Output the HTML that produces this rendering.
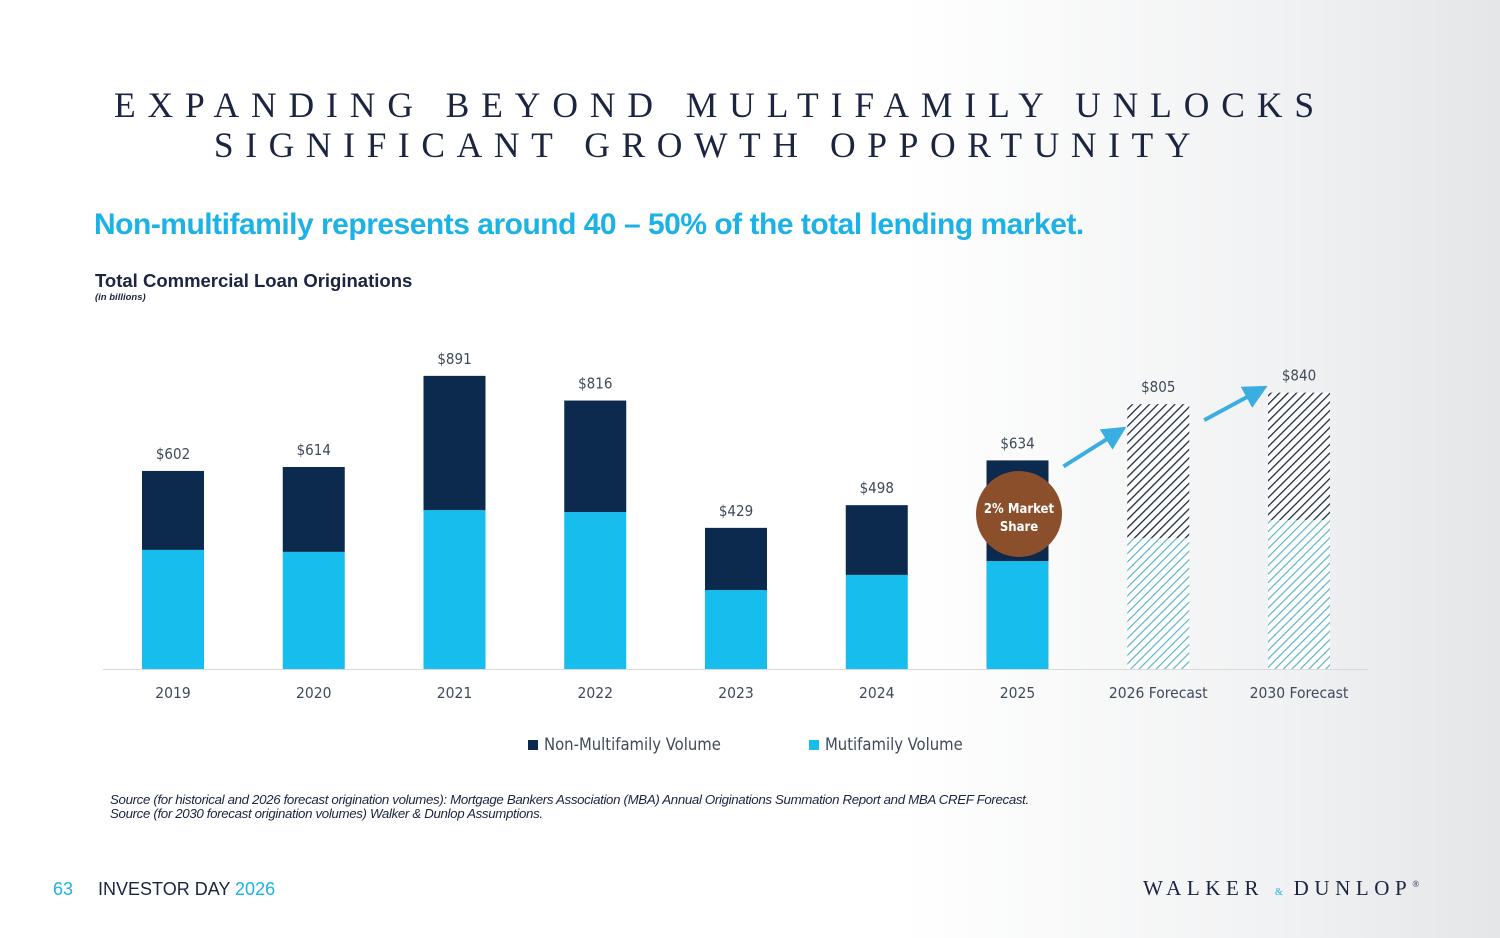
<!DOCTYPE html>
<html><head><meta charset="utf-8"><style>
html,body{margin:0;padding:0;width:1500px;height:938px;overflow:hidden;background:#fff;font-family:"Liberation Sans",sans-serif;}
#bg{position:absolute;left:0;top:0;width:1500px;height:938px;background:linear-gradient(90deg,#fff 0%,#fff 60%,#f1f2f3 85%,#e4e6e8 100%);}
.t{position:absolute;white-space:nowrap;}
</style></head><body>
<div id="bg"></div>
<div class="t" style="left:0;width:1440px;text-align:center;top:84px;font-family:'Liberation Serif',serif;font-size:35.5px;letter-spacing:11.9px;color:#1b2440;">EXPANDING BEYOND MULTIFAMILY UNLOCKS</div>
<div class="t" style="left:0;width:1416px;text-align:center;top:124px;font-family:'Liberation Serif',serif;font-size:35.5px;letter-spacing:11.6px;color:#1b2440;">SIGNIFICANT GROWTH OPPORTUNITY</div>
<div class="t" style="left:94px;top:208px;font-size:30px;font-weight:bold;color:#1cb2e6;letter-spacing:-0.5px;">Non-multifamily represents around 40 – 50% of the total lending market.</div>
<div class="t" style="left:95px;top:270px;font-size:18.5px;font-weight:bold;color:#1b2440;">Total Commercial Loan Originations</div>
<div class="t" style="left:95px;top:292px;font-size:9.5px;font-style:italic;font-weight:bold;color:#1b2440;">(in billions)</div>
<svg id="chart" width="1500" height="938" style="position:absolute;left:0;top:0">
<defs>
<pattern id="hd" width="6" height="6" patternUnits="userSpaceOnUse" patternTransform="rotate(45)"><rect width="6" height="6" fill="#fff"/><line x1="0" y1="0" x2="0" y2="6" stroke="#1f2a3a" stroke-width="2.6"/></pattern>
<pattern id="hl" width="6" height="6" patternUnits="userSpaceOnUse" patternTransform="rotate(45)"><rect width="6" height="6" fill="#fff"/><line x1="0" y1="0" x2="0" y2="6" stroke="#5fb3c8" stroke-width="2.4"/></pattern>
<marker id="ah" markerWidth="6" markerHeight="6" refX="3" refY="3" orient="auto"><path d="M0,0 L6,3 L0,6 z" fill="#3aaee0"/></marker>
</defs>
</svg>
<div class="t" style="left:110px;top:793px;font-size:13.3px;font-style:italic;color:#1b2440;line-height:14px;letter-spacing:-0.35px;">Source (for historical and 2026 forecast origination volumes): Mortgage Bankers Association (MBA) Annual Originations Summation Report and MBA CREF Forecast.<br>Source (for 2030 forecast origination volumes) Walker &amp; Dunlop Assumptions.</div>
<div class="t" style="left:53px;top:879px;font-size:18px;color:#1cb2e6;">63</div>
<div class="t" style="left:98px;top:879px;font-size:18px;color:#1b2440;">INVESTOR DAY <span style="color:#1cb2e6">2026</span></div>
<div class="t" style="left:1143px;top:876px;font-family:'Liberation Serif',serif;font-size:21px;letter-spacing:5.6px;color:#1b2440;">WALKER <span style="font-size:10px;color:#1cb2e6;letter-spacing:0">&amp;</span> DUNLOP<sup style="font-size:9px">®</sup></div>
<script>
const categories=["2019","2020","2021","2022","2023","2024","2025","2026 Forecast","2030 Forecast"];
const totals=[602,614,891,816,429,498,634,805,840];
const multifamily=[362,356,483,477,240,286,328,398,453];
const forecast=[false,false,false,false,false,false,false,true,true];
const svg=document.getElementById('chart');
const NS='http://www.w3.org/2000/svg';
const baseY=669, scale=0.329, x0=173, step=140.75, bw=62;
const xs=i=>x0+i*step;
const ys=v=>baseY-v*scale;
function mk(t,a){const e=document.createElementNS(NS,t);for(const k in a)e.setAttribute(k,a[k]);svg.appendChild(e);return e;}
const ax=mk('line',{x1:103,x2:1368,y1:baseY+0.5,y2:baseY+0.5,stroke:'#d9d9d9','stroke-width':1});


categories.forEach((c,i)=>{
  const cx=xs(i);
  const m=mk('rect',{x:cx-bw/2,y:ys(multifamily[i]),width:bw,height:multifamily[i]*scale,fill:forecast[i]?'url(#hl)':'#17bdec'});
  
  
  const n=mk('rect',{x:cx-bw/2,y:ys(totals[i]),width:bw,height:(totals[i]-multifamily[i])*scale,fill:forecast[i]?'url(#hd)':'#0c2a4e'});
  
  
  const l=mk('text',{x:cx,y:ys(totals[i])-12,'text-anchor':'middle','font-size':15,fill:'#404a5a','font-family':'DejaVu Sans Condensed, DejaVu Sans, sans-serif'});
  l.textContent='$'+totals[i];
  
  
  const t=mk('text',{x:cx,y:698,'text-anchor':'middle','font-size':15.5,fill:'#404a5a','font-family':'DejaVu Sans Condensed, DejaVu Sans, sans-serif'});
  t.textContent=c;
  
  
});
// arrows
[[6,7,6,29],[7,8,16,-1]].forEach(([a,b,d1,d2])=>{
  const ar=mk('line',{x1:xs(a)+46,y1:ys(totals[a])+d1,x2:xs(b)-42,y2:ys(totals[b])+d2,stroke:'#3aaee0','stroke-width':4,'marker-end':'url(#ah)'});
  
  
});
const cb=mk('circle',{cx:1019,cy:514,r:43,fill:'#8c4f2b'});


[['2% Market',513],['Share',531]].forEach(([s,y])=>{const t=mk('text',{x:1019,y:y,'text-anchor':'middle','font-size':13,'font-weight':'bold',fill:'#fff','font-family':'DejaVu Sans Condensed, sans-serif'});t.textContent=s;

});
// legend
[['#0c2a4e','Non-Multifamily Volume',528],['#17bdec','Mutifamily Volume',809]].forEach(([c,s,x])=>{
  const r=mk('rect',{x:x,y:740,width:10,height:10,fill:c});
  
  
  const t=mk('text',{x:x+16,y:750,'font-size':16.5,fill:'#404a5a','font-family':'DejaVu Sans Condensed, sans-serif'});t.textContent=s;
  
  
});
</script>
</body></html>
